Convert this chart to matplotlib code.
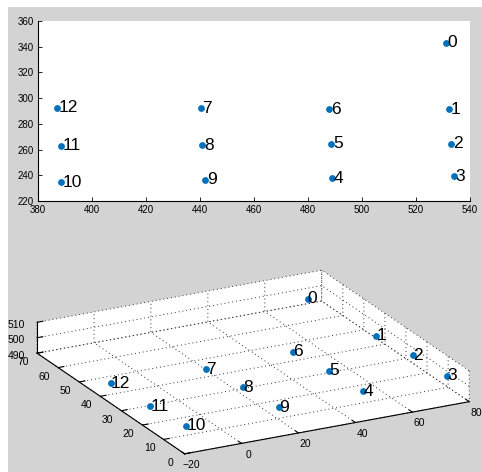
import numpy as np
import matplotlib
matplotlib.use('Agg')
import matplotlib.pyplot as plt
from matplotlib.patches import Rectangle
from mpl_toolkits.mplot3d import proj3d

# image points (pixels)
labels = [str(i) for i in range(13)]
u = [531.0, 532.4, 533.0, 534.0, 488.8, 488.6, 487.9, 440.2, 440.8, 441.9, 388.4, 388.4, 387.0]
v = [342.9, 291.2, 264.7, 239.2, 237.7, 264.7, 291.2, 292.0, 263.4, 236.4, 234.5, 262.9, 292.5]

# world points
X = [70.8, 74.8, 77.0, 78.2, 48.7, 47.4, 45.2, 14.0, 16.9, 18.9, -14.5, -16.4, -18.1]
Y = [64.2, 37.1, 22.7, 7.9, 8.0, 22.5, 36.7, 35.9, 22.2, 7.6, 6.7, 21.2, 37.6]
Z = [500.0] * 13

dot_color = '#0072bd'
bg = '#d3d3d3'
dotted = (0, (1, 3))

plt.rcParams['font.family'] = ['Liberation Sans', 'DejaVu Sans']
plt.rcParams['grid.color'] = '0.2'
plt.rcParams['grid.linewidth'] = 0.7

W, H = 482, 472
fig = plt.figure(figsize=(W / 100, H / 100), dpi=100, facecolor='white')
fig.patches.append(Rectangle((8 / W, 0), 1 - 8 / W, 1 - 7 / H, transform=fig.transFigure,
                             facecolor=bg, edgecolor='none', zorder=-10))

# --- 2D image coordinates ---
ax1 = fig.add_axes([38 / W, (H - 201) / H, 432 / W, 180 / H])
ax1.scatter(u, v, s=15, color=dot_color, zorder=3)
for i, lab in enumerate(labels):
    ax1.text(u[i] + 0.6, v[i], lab, fontsize=12.5, ha='left', va='center')
ax1.set_xlim(380, 540)
ax1.set_ylim(220, 360)
ax1.set_xticks(range(380, 541, 20))
ax1.set_yticks(range(220, 361, 20))
ax1.spines['top'].set_visible(False)
ax1.spines['right'].set_visible(False)
ax1.tick_params(direction='in', length=3, width=0.6, labelsize=7, pad=3)

# --- 3D world coordinates ---
ax2 = fig.add_axes([0.0, 0.0, 1.0, 0.45], projection='3d', proj_type='ortho')
ax2.set_facecolor('none')
ax2.scatter(X, Y, Z, s=15, color=dot_color, depthshade=False)
ax2.set_xlim(-20, 80)
ax2.set_ylim(0, 70)
ax2.set_zlim(490, 510)
ax2.set_xticks(range(-20, 81, 20))
ax2.set_yticks(range(0, 71, 10))
ax2.set_zticks([490, 500, 510])
ax2.set_box_aspect((1, 1, 0.103))
ax2.view_init(elev=20.7, azim=-117.4)
for a in (ax2.xaxis, ax2.yaxis, ax2.zaxis):
    a.set_pane_color((1, 1, 1, 1))
    a.pane.set_edgecolor('none')
    a.line.set_linewidth(0.8)
    a._axinfo['grid']['linestyle'] = dotted
    a._axinfo['tick']['inward_factor'] = 0.0
    a._axinfo['tick']['outward_factor'] = 0.25
ax2.tick_params(labelsize=7.5, pad=0)

# fit the projected box onto the reference corner positions
corners = np.array([[-20, 0, 490], [80, 0, 490], [-20, 70, 490], [-20, 70, 510]], float)
targets = np.array([[185, 18], [469, 70], [37, 119], [37, 150]], float)
for _ in range(2):
    fig.canvas.draw()
    xs, ys, _z = proj3d.proj_transform(corners[:, 0], corners[:, 1], corners[:, 2], ax2.M)
    pix = ax2.transData.transform(np.column_stack([xs, ys]))
    bb = ax2.get_position().transformed(fig.transFigure)
    c0 = np.array([(bb.x0 + bb.x1) / 2, (bb.y0 + bb.y1) / 2])
    vv = (pix - c0) / bb.width
    A = np.zeros((8, 3))
    A[0::2, 0] = 1
    A[1::2, 1] = 1
    A[0::2, 2] = vv[:, 0]
    A[1::2, 2] = vv[:, 1]
    cx, cy, L = np.linalg.lstsq(A, targets.reshape(-1), rcond=None)[0]
    ax2.set_position([(cx - L / 2) / W, (cy - L / 2) / H, L / W, L / H])

# point labels, placed at the projected point positions
fig.canvas.draw()
px, py, _z = proj3d.proj_transform(np.array(X), np.array(Y), np.array(Z), ax2.M)
for i, lab in enumerate(labels):
    ax2.text2D(px[i], py[i], lab, transform=ax2.transData, fontsize=12.5,
               ha='left', va='center')

fig.savefig('out.png', dpi=100, facecolor=fig.get_facecolor())
